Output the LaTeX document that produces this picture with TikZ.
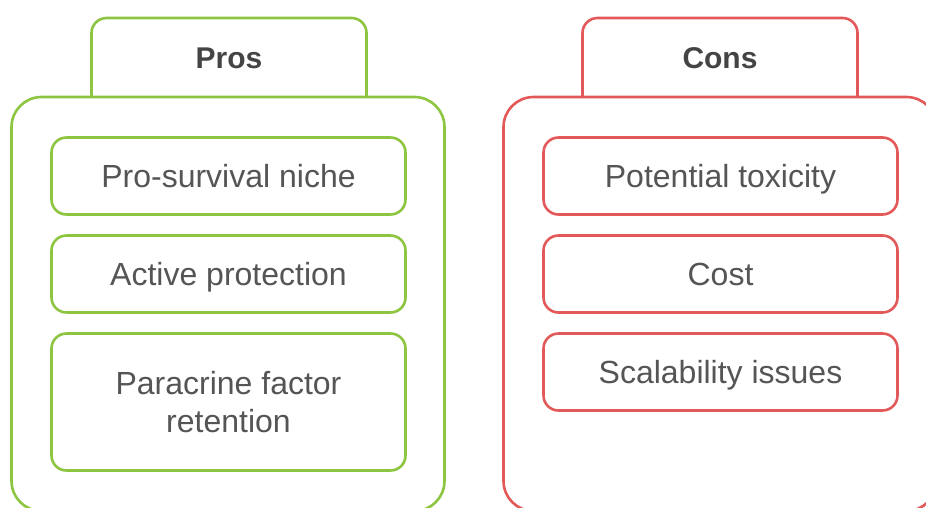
\documentclass[tikz,border=0pt]{standalone}
\usepackage{fontspec}
\setmainfont{Liberation Sans}
\definecolor{progreen}{HTML}{8DC540}
\definecolor{conred}{HTML}{E35959}
\definecolor{txtgray}{HTML}{555555}
\definecolor{ttlgray}{HTML}{444444}
\tikzset{
  panel/.style={draw, line width=2.6pt, rounded corners=30pt, fill=white, inner sep=0pt, minimum width=433pt, minimum height=414pt},
  tabbox/.style={draw, line width=2.6pt, rounded corners=15pt, inner sep=0pt, minimum width=275pt, minimum height=110pt},
  itembox/.style={draw, line width=2.6pt, rounded corners=15pt, fill=white, inner sep=0pt, minimum width=354pt, minimum height=77pt, align=center, text=txtgray, font=\fontsize{32}{38}\selectfont},
  oneline/.style={text height=23pt, text depth=0pt},
  ttl/.style={text=ttlgray, font=\fontsize{30}{36}\selectfont\bfseries, inner sep=0pt, text height=21.5pt, text depth=0pt}
}
\begin{document}
\begin{tikzpicture}[x=1pt,y=-1pt]
\useasboundingbox (0,0) rectangle (926,507);
% Pros
\node[tabbox, draw=progreen] (protab) at (229,73) {};
\node[panel, draw=progreen] (propanel) at (228,304) {};
\node[ttl] (protitle) at (229,58) {Pros};
\node[itembox, oneline, draw=progreen] (p1) at (228.5,176) {Pro-survival niche};
\node[itembox, oneline, draw=progreen] (p2) at (228.5,274) {Active protection};
\node[itembox, draw=progreen, minimum height=137pt] (p3) at (228.5,402) {Paracrine factor\\retention};
% Cons
\node[tabbox, draw=conred] (contab) at (720,73) {};
\node[panel, draw=conred] (conpanel) at (720,304) {};
\node[ttl] (contitle) at (720,58) {Cons};
\node[itembox, oneline, draw=conred] (c1) at (720.5,176) {Potential toxicity};
\node[itembox, oneline, draw=conred] (c2) at (720.5,274) {Cost};
\node[itembox, oneline, draw=conred] (c3) at (720.5,372) {Scalability issues};
\end{tikzpicture}
\end{document}
